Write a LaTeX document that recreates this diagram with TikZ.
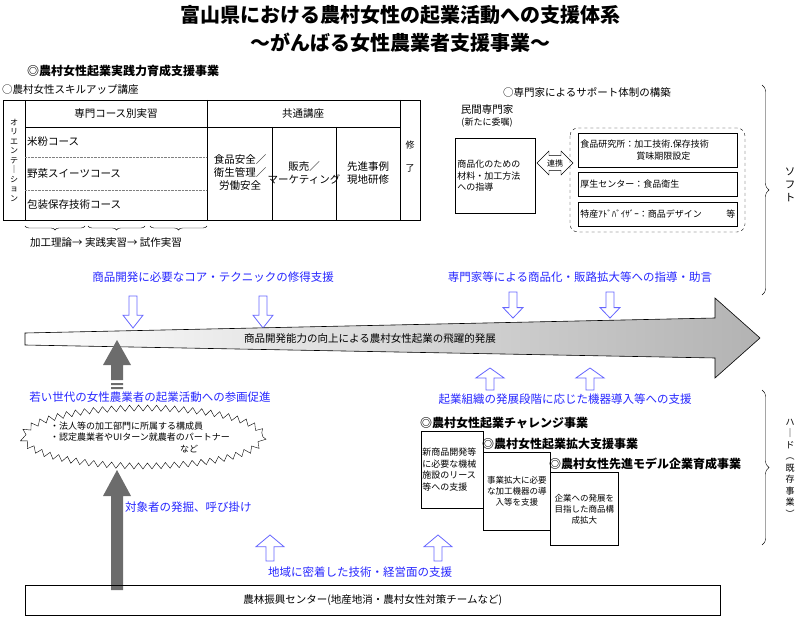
\documentclass[tikz,border=0pt]{standalone}
\usepackage{fontspec}
\setmainfont{Noto Sans CJK JP}
\usetikzlibrary{decorations.pathmorphing,decorations.pathreplacing,shapes.arrows}
\newcommand{\hdown}[3]{\draw[bluearr] (#1-4,#2) -- (#1+4,#2) -- (#1+4,#2+0.6*#3) -- (#1+10,#2+0.6*#3) -- (#1,#2+#3) -- (#1-10,#2+0.6*#3) -- (#1-4,#2+0.6*#3) -- cycle;}
\newcommand{\hup}[3]{\draw[bluearr] (#1-4,#2+#3) -- (#1+4,#2+#3) -- (#1+4,#2+0.45*#3) -- (#1+14,#2+0.45*#3) -- (#1,#2) -- (#1-14,#2+0.45*#3) -- (#1-4,#2+0.45*#3) -- cycle;}
\begin{document}
\begin{tikzpicture}[x=1pt,y=-1pt,
  every node/.style={inner sep=1pt},
  txt/.style={font=\fontsize{10.5}{13}\selectfont},
  sm/.style={font=\fontsize{9}{11.5}\selectfont},
  hd/.style={font=\fontsize{12}{14}\selectfont\bfseries},
  bl/.style={font=\fontsize{11.5}{13}\selectfont, text=blue!85!white},
  bluearr/.style={draw=blue!60!white, fill=white, line width=0.8pt},
  box/.style={draw, line width=0.6pt},
  grayarr/.style={fill=gray!85!black, draw=none}]
\useasboundingbox (0,0) rectangle (800,620);
% title
\node[font=\fontsize{20}{22}\selectfont\bfseries] (t1) at (400,15) {富山県における農村女性の起業活動への支援体系};
\node[font=\fontsize{20}{22}\selectfont\bfseries] (t2) at (400,43) {～がんばる女性農業者支援事業～};
% left top
\node[hd,anchor=west] (h1) at (26,71) {◎農村女性起業実践力育成支援事業};
\node[txt,anchor=west] (h2) at (1,90) {○農村女性スキルアップ講座};
\draw[box] (3,100) rectangle (420,220);
\draw[box] (25,100) -- (25,220);
\draw[box] (25,127) -- (400,127);
\draw[box] (207,100) -- (207,220);
\draw[box] (272,127) -- (272,220) (336,127) -- (336,220) (400,100) -- (400,220);
\draw[densely dotted,gray] (25,157) -- (207,157) (25,190) -- (207,190);
\node[font=\fontsize{8}{9.5}\selectfont,align=center] (ori) at (14,160) {オ\\リ\\エ\\ン\\テ\\｜\\シ\\ョ\\ン};
\node[txt] (c1) at (116,114) {専門コース別実習};
\node[txt] (c2) at (303,114) {共通講座};
\node[txt,anchor=west] (r1) at (26,142) {米粉コース};
\node[txt,anchor=west] (r2) at (26,174) {野菜スイーツコース};
\node[txt,anchor=west] (r3) at (26,205) {包装保存技術コース};
\node[txt,align=center] (k1) at (240,173) {食品安全／\\衛生管理／\\労働安全};
\node[txt,align=center] (k2) at (304,173) {販売／\\マーケティング};
\node[txt,align=center] (k3) at (368,173) {先進事例\\現地研修};
\node[sm,align=center] (k4) at (410,157) {修\\\\了};
\draw[decorate,decoration={brace,amplitude=4pt,mirror}] (25,226) -- (85,226);
\draw[decorate,decoration={brace,amplitude=4pt,mirror}] (88,226) -- (145,226);
\draw[decorate,decoration={brace,amplitude=4pt,mirror}] (150,226) -- (207,226);
\node[txt,anchor=west] (br) at (29,243) {加工理論→ 実践実習→ 試作実習};
% right top
\node[txt,anchor=west] (s1) at (502,92) {○専門家によるサポート体制の構築};
\node[txt] (s2) at (487,110) {民間専門家};
\node[sm] (s3) at (487,123) {(新たに委嘱)};
\node[box,minimum width=80,minimum height=75,anchor=north west,sm,align=left,text width=76] (sb) at (455,138) {商品化のための\\材料・加工方法\\への指導};
\node[draw,double arrow, minimum height=36, minimum width=24,double arrow head extend=3pt, inner sep=1pt,font=\fontsize{8}{9}\selectfont] (lk) at (555,163) {連携};
\draw[dashed,rounded corners=8] (570,128) rectangle (745,232);
\node[box,anchor=north west,minimum width=159,minimum height=34,sm,align=left,text width=155] (e1) at (578,133) {食品研究所：加工技術.保存技術\\\hspace*{56pt}賞味期限設定};
\node[box,anchor=north west,minimum width=159,minimum height=24,sm,align=left,text width=155] (e2) at (578,172) {厚生センター：食品衛生};
\node[box,anchor=north west,minimum width=159,minimum height=24,sm,align=left,text width=155] (e3) at (578,202) {特産ｱﾄﾞﾊﾞｲｻﾞｰ：商品デザイン\hfill 等};
\draw[decorate,decoration={brace,amplitude=7pt}] (762,85) -- (762,295);
\node[txt,align=center] (soft) at (790,185) {ソ\\フ\\ト};
% blue texts top
\node[bl] (b1) at (213,277) {商品開発に必要なコア・テクニックの修得支援};
\node[bl] (b2) at (580,277) {専門家等による商品化・販路拡大等への指導・助言};
\hdown{133}{296}{32}
\hdown{263}{296}{32}
\hdown{513}{292}{26}
\hdown{610}{292}{26}
% big arrow
\shade[left color=white,right color=gray!60,draw=black,line width=0.6pt]
  (25,333) -- (715,318) -- (715,298) -- (760,338) -- (715,378) -- (715,358) -- (25,345) -- cycle;
\node[txt] (main) at (370,339) {商品開発能力の向上による農村女性起業の飛躍的発展};
% gray up arrows
\fill[grayarr] (117,340) -- (131,365) -- (123,365) -- (123,380) -- (111,380) -- (111,365) -- (103,365) -- cycle;
\fill[grayarr] (111,383) rectangle (123,385) (111,387) rectangle (123,389);
\node[bl] (b3) at (150,397) {若い世代の女性農業者の起業活動への参画促進};
\draw[decorate,decoration={zigzag,segment length=9pt,amplitude=3pt},fill=white] (143,437) ellipse (120 and 29);
\node[sm,align=left] (st) at (140,437) {・法人等の加工部門に所属する構成員\\・認定農業者やUIターン就農者のパートナー\\\hspace*{130pt}など};
\fill[grayarr] (117,470) -- (131,496) -- (123,496) -- (123,590) -- (111,590) -- (111,496) -- (103,496) -- cycle;
\node[bl,anchor=west] (b4) at (124,507) {対象者の発掘、呼び掛け};
\hup{270}{535}{26}
\hup{438}{535}{26}
\node[bl] (b5) at (360,572) {地域に密着した技術・経営面の支援};
\node[box,minimum width=695,minimum height=30,anchor=north west,txt] (bot) at (25,585) {農林振興センター(地産地消・農村女性対策チームなど)};
% right middle
\hup{490}{368}{22}
\hup{590}{368}{22}
\node[bl] (b6) at (565,399) {起業組織の発展段階に応じた機器導入等への支援};
\node[hd,anchor=west] (p1) at (419,423) {◎農村女性起業チャレンジ事業};
\node[box,anchor=north west,minimum width=62,minimum height=77,sm,align=left,text width=60] (q1) at (421,431) {新商品開発等\\に必要な機械\\施設のリース\\等への支援};
\node[hd,anchor=west] (p2) at (481,444) {◎農村女性起業拡大支援事業};
\node[box,anchor=north west,minimum width=67,minimum height=78,font=\fontsize{8.5}{11}\selectfont,align=center,text width=65,fill=white] (q2) at (483,452) {事業拡大に必要\\な加工機器の導\\入等を支援};
\node[hd,anchor=west] (p3) at (548,464) {◎農村女性先進モデル企業育成事業};
\node[box,anchor=north west,minimum width=68,minimum height=73,font=\fontsize{8.5}{11}\selectfont,align=center,text width=66,fill=white] (q3) at (550,472) {企業への発展を\\目指した商品構\\成拡大};
\draw[decorate,decoration={brace,amplitude=7pt}] (762,390) -- (762,545);
\node[sm,align=center] (hard) at (790,468) {ハ\\｜\\ド\\︵\\既\\存\\事\\業\\︶};
\end{tikzpicture}
\end{document}
